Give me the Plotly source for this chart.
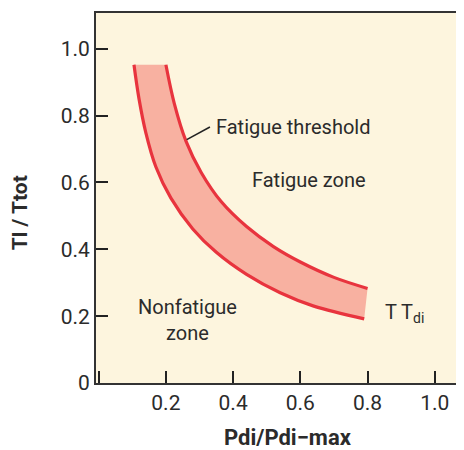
import plotly.graph_objects as go

# Upper edge of the band (fatigue threshold)
upper_x = [0.200, 0.225, 0.260, 0.305, 0.365, 0.440, 0.520, 0.600, 0.700, 0.800]
upper_y = [0.952, 0.836, 0.723, 0.630, 0.542, 0.468, 0.408, 0.362, 0.316, 0.283]

# Lower edge of the band
lower_x = [0.105, 0.120, 0.140, 0.170, 0.215, 0.280, 0.350, 0.440, 0.540, 0.640, 0.790]
lower_y = [0.952, 0.850, 0.750, 0.647, 0.553, 0.461, 0.391, 0.325, 0.270, 0.230, 0.192]

tick_vals = [0, 0.2, 0.4, 0.6, 0.8, 1.0]
x_tick_text = ["", "0.2", "0.4", "0.6", "0.8", "1.0"]
y_tick_text = ["0", "0.2", "0.4", "0.6", "0.8", "1.0"]

FONT = "Roboto"
TXT = "#2b2b2b"
RED = "#E8343E"
FILL = "#F8B1A1"
BG = "#FDF5DE"

fig = go.Figure()

# band fill between the two edges
fig.add_trace(go.Scatter(x=lower_x, y=lower_y, mode="lines", line=dict(width=0, color=FILL, smoothing=1),
                         line_shape="spline", hoverinfo="skip", showlegend=False))
fig.add_trace(go.Scatter(x=upper_x, y=upper_y, mode="lines", line=dict(width=0, color=FILL, smoothing=1),
                         line_shape="spline", fill="tonexty", fillcolor=FILL,
                         hoverinfo="skip", showlegend=False))
# red edges
fig.add_trace(go.Scatter(x=upper_x, y=upper_y, mode="lines", line=dict(color=RED, width=3.2, smoothing=1),
                         line_shape="spline", showlegend=False))
fig.add_trace(go.Scatter(x=lower_x, y=lower_y, mode="lines", line=dict(color=RED, width=3.2, smoothing=1),
                         line_shape="spline", showlegend=False))

# leader line for "Fatigue threshold"
fig.add_shape(type="line", x0=0.262, y0=0.728, x1=0.331, y1=0.766,
              line=dict(color="#222", width=1.5))

ann_font = dict(family=FONT, size=20, color=TXT)
fig.add_annotation(x=0.343, y=0.766, text="Fatigue threshold", showarrow=False,
                   xanchor="left", yanchor="middle", font=ann_font)
fig.add_annotation(x=0.626, y=0.606, text="Fatigue zone", showarrow=False,
                   xanchor="center", yanchor="middle", font=ann_font)
fig.add_annotation(x=0.263, y=0.19, text="Nonfatigue<br>zone", showarrow=False,
                   xanchor="center", yanchor="middle", font=ann_font)
fig.add_annotation(x=0.846, y=0.21, text="T T<sub>di</sub>", showarrow=False,
                   xanchor="left", yanchor="middle", font=ann_font)

# axis titles
fig.add_annotation(xref="paper", yref="paper", x=-0.208, y=0.46, text="<b>Tl / Ttot</b>",
                   textangle=-90, showarrow=False, xanchor="center", yanchor="middle",
                   font=dict(family=FONT, size=21, color=TXT))
fig.add_annotation(xref="paper", yref="paper", x=0.522, y=-0.148, text="<b>Pdi/Pdi\u2212max</b>",
                   showarrow=False, xanchor="center", yanchor="middle",
                   font=dict(family=FONT, size=22, color=TXT))

fig.update_layout(
    width=464, height=450,
    margin=dict(l=88, r=8, t=3, b=75),
    paper_bgcolor="white", plot_bgcolor=BG,
    showlegend=False,
)
fig.update_xaxes(range=[-0.008, 1.087], tickvals=tick_vals, ticktext=x_tick_text,
                 ticks="inside", ticklen=12, tickwidth=1.5, tickcolor="#222",
                 showline=True, linecolor="#333", linewidth=2, mirror=True,
                 showgrid=False, zeroline=False,
                 tickfont=dict(family=FONT, size=21, color=TXT))
fig.update_yaxes(range=[0, 1.107], tickvals=tick_vals, ticktext=y_tick_text,
                 ticks="inside", ticklen=12, tickwidth=1.5, tickcolor="#222",
                 showline=True, linecolor="#333", linewidth=2,
                 showgrid=False, zeroline=False,
                 tickfont=dict(family=FONT, size=21, color=TXT))

fig.write_html("out.html")
